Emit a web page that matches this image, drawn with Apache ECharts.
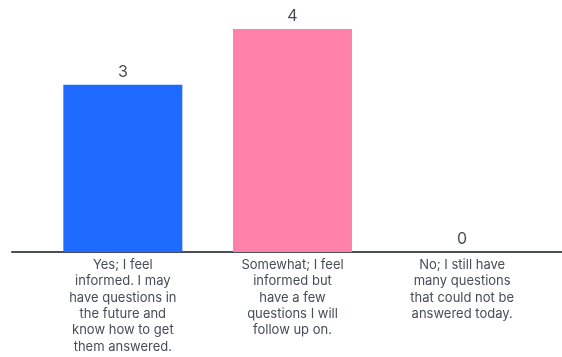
<!DOCTYPE html>
<html>
<head>
<meta charset="utf-8">
<script src="https://cdn.jsdelivr.net/npm/echarts@6/dist/echarts.min.js"></script>
<style>
  html, body { margin: 0; padding: 0; background: #fff; }
  #main { width: 562px; height: 357px; }
</style>
</head>
<body>
<div id="main"></div>
<script>
var categories = [
  'Yes; I feel\ninformed. I may\nhave questions in\nthe future and\nknow how to get\nthem answered.',
  'Somewhat; I feel\ninformed but\nhave a few\nquestions I will\nfollow up on.',
  'No; I still have\nmany questions\nthat could not be\nanswered today.'
];
var counts = [3, 4, 0];
var barColors = ['#1f6bff', '#ff80a9', '#9e9e9e'];

var chart = echarts.init(document.getElementById('main'), null, { renderer: 'canvas' });

var option = {
  animation: false,
  grid: [
    { left: 38, right: 15, top: 29, bottom: 105 },
    { left: 12, right: 0, top: 29, bottom: 105 }  // only for the long baseline
  ],
  xAxis: [
    {
      type: 'category',
      gridIndex: 0,
      data: categories,
      axisLine: { show: false },
      axisTick: { show: false },
      axisLabel: {
        interval: 0,
        margin: 5,
        color: '#474c57',
        fontFamily: 'Inter',
        fontSize: 13,
        lineHeight: 16.3,
        align: 'center'
      }
    },
    {
      type: 'category',
      gridIndex: 1,
      data: [''],
      axisLine: { show: true, lineStyle: { color: '#4a4f5a', width: 2 } },
      axisTick: { show: false },
      axisLabel: { show: false }
    }
  ],
  yAxis: [
    { type: 'value', gridIndex: 0, min: 0, max: 4, show: false },
    { type: 'value', gridIndex: 1, min: 0, max: 4, show: false }
  ],
  series: [
    {
      type: 'bar',
      xAxisIndex: 0,
      yAxisIndex: 0,
      barWidth: 119,
      data: counts.map(function (v, i) {
        return { value: v, itemStyle: { color: barColors[i] } };
      }),
      label: {
        show: true,
        position: 'top',
        distance: 5,
        color: '#474c57',
        fontFamily: 'Inter',
        fontSize: 16
      }
    }
  ]
};

chart.setOption(option);
</script>
</body>
</html>
